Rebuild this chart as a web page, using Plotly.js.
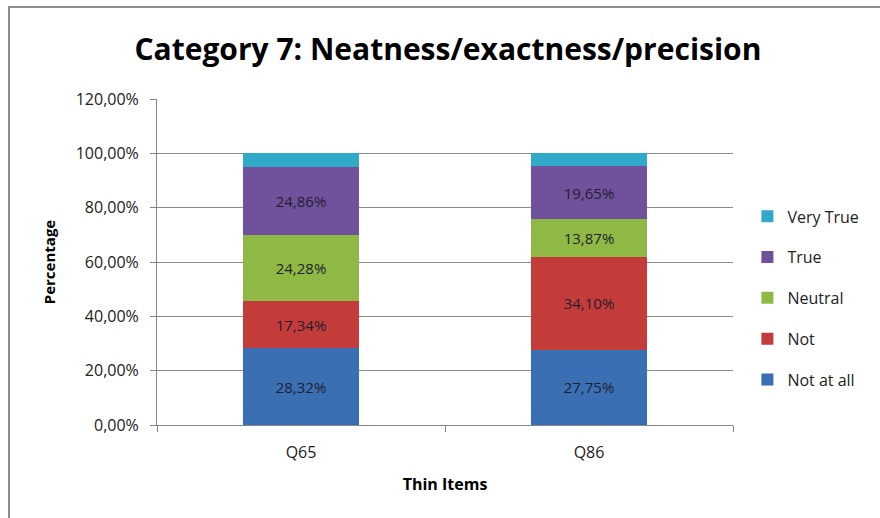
<!DOCTYPE html>
<html><head><meta charset="utf-8">
<script src="https://cdn.plot.ly/plotly-3.0.1.min.js"></script>
<style>
body{margin:0;padding:0;background:#fff;}
#wrap{position:relative;width:880px;height:518px;overflow:hidden;}
#chart{position:absolute;left:0;top:0;width:880px;height:518px;}
#frame{position:absolute;left:8px;top:6px;width:880px;height:520px;border-top:2px solid #8c8c8c;border-left:2px solid #8c8c8c;pointer-events:none;}
</style></head>
<body><div id="wrap"><div id="chart"></div><div id="frame"></div></div>
<script>
const categories = ["Q65", "Q86"];
const seriesNames = ["Not at all", "Not", "Neutral", "True", "Very True"];
const notAtAll = [28.32, 27.75];
const notVals = [17.34, 34.10];
const neutral = [24.28, 13.87];
const trueVals = [24.86, 19.65];
const veryTrue = [5.20, 4.63];
const showLabel = [true, true, true, true, false];
const colors = ["#3a6fb4", "#c43c3a", "#8fb944", "#70519b", "#31a9c9"];

const allSeries = [notAtAll, notVals, neutral, trueVals, veryTrue];
const FONT = "Open Sans, Noto Sans, sans-serif";
const traces = allSeries.map((vals, i) => ({
  type: "bar",
  name: seriesNames[i],
  x: categories,
  y: vals,
  legendgroup: "g" + i,
  legendrank: 1000 - i,
  marker: {color: colors[i], line: {width: 0}},
  texttemplate: showLabel[i] ? "%{y:.2f}%" : "",
  textposition: showLabel[i] ? "inside" : "none",
  insidetextanchor: "middle",
  textfont: {family: FONT, size: 15, color: "#1f1f2e"},
  hoverinfo: "skip"
}));

const layout = {
  width: 880, height: 518,
  margin: {l: 157, r: 147, t: 99, b: 93},
  paper_bgcolor: "#fff", plot_bgcolor: "#fff",
  separators: ",.",
  barmode: "stack",
  bargap: 0.6,
  showlegend: true,
  font: {family: FONT, color: "#222"},
  title: {text: "<b>Category 7: Neatness/exactness/precision</b>", x: 0.509, xanchor: "center", y: 0.905, yanchor: "middle",
          font: {family: FONT, size: 30, color: "#000"}},
  xaxis: {
    type: "category",
    showline: true, linecolor: "#868686", linewidth: 1,
    ticks: "outside", tickson: "boundaries", ticklen: 6, tickcolor: "#868686",
    ticklabelstandoff: 13,
    tickfont: {family: FONT, size: 16, color: "#222"},
    title: {text: "<b>Thin Items</b>", font: {family: FONT, size: 16, color: "#000"}, standoff: 16},
    showgrid: false
  },
  yaxis: {
    range: [0, 120], dtick: 20, tick0: 0,
    tickformat: ".2f", ticksuffix: "%",
    showline: true, linecolor: "#868686", linewidth: 1,
    ticks: "outside", ticklen: 6, tickcolor: "#868686",
    ticklabelstandoff: 8,
    gridcolor: "#8a8a8a", gridwidth: 1,
    zeroline: false,
    tickfont: {family: FONT, size: 16, color: "#222"},
    title: {text: "<b>Percentage</b>", font: {family: FONT, size: 15, color: "#000"}, standoff: 16}
  },
  legend: {
    x: 1.025, xanchor: "left", y: 0.39, yanchor: "middle",
    traceorder: "grouped",
    tracegroupgap: 17,
    font: {family: FONT, size: 16, color: "#222"},
    itemwidth: 30
  }
};

Plotly.newPlot("chart", traces, layout, {displayModeBar: false, staticPlot: true});
</script></body></html>
